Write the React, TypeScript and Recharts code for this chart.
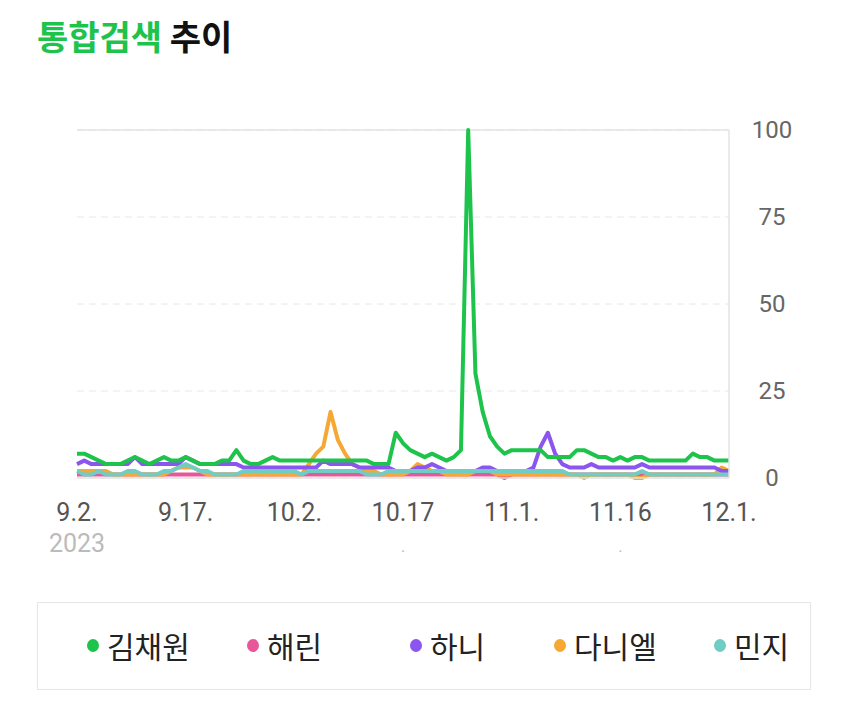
import React from "react";
import { LineChart, Line, XAxis, YAxis, CartesianGrid, ReferenceLine } from "recharts";

// 2023.9.2 ~ 12.1 daily
const START = new Date(2023, 8, 2);
const DAYS = 91;
const dates: string[] = [];
for (let i = 0; i < DAYS; i++) {
  const d = new Date(START.getTime() + i * 86400000);
  dates.push(`${d.getMonth() + 1}.${d.getDate()}.`);
}

const kim = [
  7, 7, 6, 5, 4, 4, 4, 5, 6, 5, 4, 5, 6, 5, 5, 6, 5, 4, 4, 4, 5, 5, 8, 5, 4, 4, 5, 6, 5, 5,
  5, 5, 5, 5, 5, 5, 5, 5, 5, 5, 5, 4, 4, 4, 13, 10, 8, 7, 6, 7, 6, 5, 6, 8, 100, 30, 19, 12, 9, 7,
  8, 8, 8, 8, 8, 6, 6, 6, 6, 8, 8, 7, 6, 6, 5, 6, 5, 6, 6, 5, 5, 5, 5, 5, 5, 7, 6, 6, 5, 5, 5,
];
const haerin = [
  1, 1, 1, 1, 1, 1, 1, 1, 1, 1, 1, 1, 1, 1, 1, 1, 1, 1, 1, 1, 1, 1, 1, 1, 1, 1, 1, 1, 1, 1,
  1, 1, 1, 1, 1, 1, 1, 1, 1, 1, 1, 1, 1, 1, 1, 1, 1, 1, 1, 1, 1, 1, 1, 1, 1, 1, 1, 1, 1, 0,
  1, 1, 1, 1, 1, 1, 1, 1, 1, 1, 1, 1, 1, 1, 1, 1, 1, 1, 1, 1, 1, 1, 1, 1, 1, 1, 1, 1, 1, 1, 1,
];
const hani = [
  4, 5, 4, 4, 4, 4, 4, 4, 6, 4, 4, 4, 4, 4, 4, 6, 5, 4, 4, 4, 4, 4, 4, 3, 3, 3, 3, 3, 3, 3,
  3, 3, 3, 3, 5, 4, 4, 4, 4, 3, 3, 3, 3, 3, 2, 2, 2, 3, 3, 4, 3, 2, 2, 2, 2, 2, 3, 3, 2, 2,
  2, 2, 2, 3, 9, 13, 7, 4, 3, 3, 3, 4, 3, 3, 3, 3, 3, 3, 4, 3, 3, 3, 3, 3, 3, 3, 3, 3, 3, 2, 2,
];
const daniel = [
  2, 2, 2, 2, 2, 1, 1, 1, 1, 1, 1, 1, 1, 2, 3, 3, 3, 2, 1, 1, 1, 1, 1, 1, 1, 1, 1, 1, 1, 1,
  1, 1, 4, 7, 9, 19, 11, 7, 4, 3, 2, 2, 1, 1, 1, 1, 2, 4, 3, 2, 2, 1, 1, 1, 1, 2, 2, 2, 1, 1,
  1, 1, 1, 1, 1, 1, 1, 1, 1, 1, 0, 1, 1, 1, 1, 1, 1, 0, 0, 1, 1, 1, 1, 1, 1, 1, 1, 1, 1, 3, 2,
];
const minji = [
  2, 1, 1, 2, 1, 1, 1, 2, 2, 1, 1, 1, 2, 2, 3, 4, 3, 2, 2, 1, 1, 1, 1, 2, 2, 2, 2, 2, 2, 2,
  2, 1, 2, 2, 2, 2, 2, 2, 2, 2, 1, 1, 1, 2, 2, 2, 2, 2, 2, 2, 2, 2, 2, 2, 2, 2, 2, 2, 2, 2,
  2, 2, 2, 2, 2, 2, 2, 2, 1, 1, 1, 1, 1, 1, 1, 1, 1, 1, 2, 1, 1, 1, 1, 1, 1, 1, 1, 1, 1, 1, 1,
];

const SERIES = [
  { key: "haerin", name: "해린", color: "#e8579a", values: haerin },
  { key: "daniel", name: "다니엘", color: "#f5a833", values: daniel },
  { key: "hani", name: "하니", color: "#8c55ef", values: hani },
  { key: "minji", name: "민지", color: "#6fcdc3", values: minji },
  { key: "kim", name: "김채원", color: "#1ec34c", values: kim },
];
const LEGEND_ORDER = ["kim", "haerin", "hani", "daniel", "minji"];
const LEGEND_X = [87, 247, 410, 554, 714];

const Y_TICKS = [0, 25, 50, 75, 100];
// some tick labels appear cut off in the original
const TICK_TEXT: Record<string, string> = { "10.17.": "10.17", "11.16.": "11.16" };
const TICK_SUB: Record<string, string> = { "9.2.": "2023", "10.17.": ".", "11.16.": "." };

const data = dates.map((date, i) => {
  const row: Record<string, string | number> = { date };
  SERIES.forEach((s) => (row[s.key] = s.values[i]));
  return row;
});

const font = "Roboto, 'Noto Sans CJK KR', sans-serif";

const XTick = (props: any) => {
  const { x, y, payload } = props;
  const v = payload.value as string;
  const sub = TICK_SUB[v];
  return (
    <g>
      <text x={x} y={y + 43} textAnchor="middle" fontSize={25} fill="#555" fontFamily={font}>
        {TICK_TEXT[v] ?? v}
      </text>
      {sub && (
        <text x={x} y={y + 74} textAnchor="middle" fontSize={sub === "." ? 16 : 25} fill="#bbb" fontFamily={font}>
          {sub}
        </text>
      )}
    </g>
  );
};

const YTick = (props: any) => {
  const { x, y, payload } = props;
  return (
    <text x={x + 43} y={y} textAnchor="middle" dominantBaseline="central" fontSize={24} fill="#666" fontFamily={font}>
      {payload.value}
    </text>
  );
};

export default function App() {
  return (
    <div style={{ position: "absolute", left: 0, top: 0, width: 850, height: 710, background: "#fff" }}>
      <div
        style={{
          position: "absolute",
          left: 37,
          top: 11,
          fontSize: 34,
          fontWeight: 700,
          fontFamily: "'Noto Sans CJK KR', sans-serif",
          color: "#111",
        }}
      >
        <span style={{ color: "#1ec34c" }}>통합검색</span> 추이
      </div>

      <LineChart width={850} height={710} data={data} margin={{ top: 130, right: 0, bottom: 172, left: 77 }}>
        <CartesianGrid vertical={false} stroke="#e8e8e8" strokeDasharray="7 5" />
        <ReferenceLine y={100} stroke="#e3e3e3" strokeWidth={1.5} />
        <XAxis
          dataKey="date"
          interval={14}
          height={60}
          tickSize={0}
          tickMargin={0}
          axisLine={{ stroke: "#e3e3e3", strokeWidth: 1.5 }}
          tickLine={false}
          tick={<XTick />}
        />
        <YAxis
          orientation="right"
          width={121}
          domain={[0, 100]}
          ticks={Y_TICKS}
          tickSize={0}
          tickMargin={0}
          axisLine={{ stroke: "#e3e3e3", strokeWidth: 1.5 }}
          tickLine={false}
          tick={<YTick />}
        />
        {SERIES.map((s) => (
          <Line
            key={s.key}
            dataKey={s.key}
            name={s.name}
            stroke={s.color}
            strokeWidth={4}
            dot={false}
            activeDot={false}
            strokeLinejoin="round"
            isAnimationActive={false}
          />
        ))}
      </LineChart>

      <div
        style={{
          position: "absolute",
          left: 37,
          top: 602,
          width: 774,
          height: 88,
          border: "1.5px solid #e6e6e6",
          boxSizing: "border-box",
        }}
      />
      {LEGEND_ORDER.map((k, i) => {
        const s = SERIES.find((x) => x.key === k)!;
        return (
          <div
            key={k}
            style={{
              position: "absolute",
              left: LEGEND_X[i],
              top: 625,
              height: 40,
              display: "flex",
              alignItems: "center",
              fontFamily: "'Noto Sans CJK KR', sans-serif",
              fontSize: 30,
              color: "#222",
            }}
          >
            <span
              style={{ width: 12, height: 13, borderRadius: "50%", background: s.color, marginRight: 8, display: "inline-block" }}
            />
            {s.name}
          </div>
        );
      })}
    </div>
  );
}
